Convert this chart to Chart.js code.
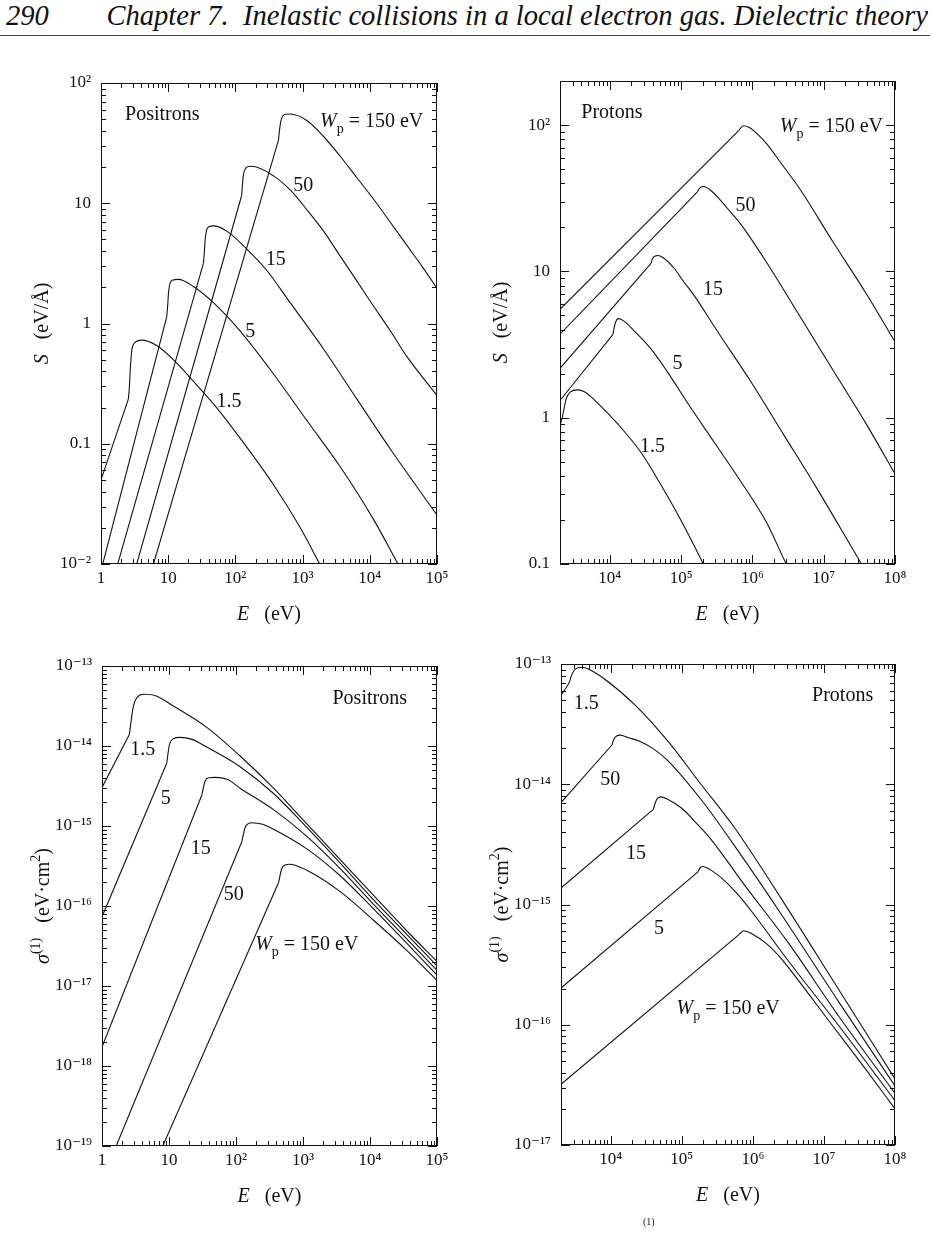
<!DOCTYPE html>
<html>
<head>
<meta charset="utf-8">
<script src="https://cdn.jsdelivr.net/npm/chart.js@4.4.1/dist/chart.umd.min.js"></script>
<style>
  html, body { margin: 0; padding: 0; background: #fff; }
  body { width: 932px; height: 1237px; position: relative; overflow: hidden; }
  canvas { position: absolute; }
  .hdr { position: absolute; top: 2px; line-height: 1; font-style: italic;
         font-family: 'Liberation Serif', 'DejaVu Serif', serif; white-space: nowrap; color: #111; }
  #pg { left: 6px; }
  #ttl { right: 4px; }
  #rule { position: absolute; left: 0; top: 35px; width: 930px; height: 1px; background: #444; }
  #cap { position: absolute; left: 643px; top: 1216px; font: 10px 'Liberation Serif', serif; color: #111; }
</style>
</head>
<body>
<div id="pg" class="hdr">290</div>
<div id="ttl" class="hdr">Chapter 7.&nbsp; Inelastic collisions in a local electron gas. Dielectric theory</div>
<div id="rule"></div>

<canvas id="c1" width="466" height="590" style="left:0;top:40px"></canvas>
<canvas id="c2" width="466" height="590" style="left:466px;top:40px"></canvas>
<canvas id="c3" width="466" height="600" style="left:0;top:630px"></canvas>
<canvas id="c4" width="466" height="600" style="left:466px;top:630px"></canvas>
<div id="cap">(1)</div>

<script>
/* ---------- data: [E (eV), value] ---------- */

/* stopping power S (eV/Å), positrons */
const posS_1p5 = [[1,0.05],[2.55,0.235],[2.63,0.282],[2.75,0.447],[2.88,0.60],[3.16,0.69],[4.04,0.728],[6.75,0.656],[11.9,0.50],[23.7,0.331],[52.8,0.199],[118,0.111],[369,0.0456],[920,0.0201],[1800,0.0100],[3160,0.0056]];
const posS_5   = [[1,0.0088],[9.5,1.135],[9.77,1.35],[10.1,1.78],[10.6,2.14],[11.5,2.29],[14.2,2.33],[23.7,2.03],[47.1,1.49],[118,0.863],[369,0.38],[1158,0.156],[3630,0.0643],[11400,0.0234],[26300,0.0100],[45000,0.0058]];
const posS_15  = [[1.67,0.0089],[33.4,3.16],[34.4,3.8],[35.5,5.0],[37.2,5.96],[40.3,6.38],[47.1,6.49],[74.5,5.86],[148,4.16],[294,2.76],[653,1.49],[2050,0.614],[6430,0.235],[20200,0.0904],[100000,0.0255]];
const posS_50  = [[3.2,0.0089],[124,11.6],[127,14.1],[132,17.4],[140,19.3],[155,20.2],[175,20.3],[369,16.9],[653,12.9],[1158,8.83],[2050,5.86],[3630,3.63],[6430,2.25],[11400,1.39],[20200,0.87],[35700,0.53],[100000,0.252]];
const posS_150 = [[5.67,0.0089],[438,33.5],[452,39.8],[473,47.9],[507,53.1],[562,55.0],[653,55.2],[1156,48.8],[2050,35.9],[3630,24.6],[6430,16.3],[11400,10.8],[20200,6.95],[35700,4.46],[63200,2.86],[100000,1.96]];

/* stopping power S (eV/Å), protons */
const proS_1p5 = [[2000,0.88],[2150,1.0],[2450,1.35],[2800,1.5],[3500,1.55],[4470,1.50],[6110,1.32],[12900,0.906],[27400,0.578],[52000,0.348],[98900,0.20],[205000,0.1],[350000,0.058]];
const proS_5   = [[2000,1.31],[11000,3.69],[12000,4.47],[13200,4.75],[15800,4.57],[22100,3.91],[37700,2.95],[64500,2.05],[122000,1.27],[288000,0.684],[681000,0.369],[1.6e6,0.19],[2.98e6,0.1],[5e6,0.062]];
const proS_15  = [[2000,2.17],[37800,11.35],[39800,12.3],[46700,12.85],[56200,12.4],[79800,10.5],[105000,8.7],[152000,6.86],[321000,3.91],[938000,1.78],[2.74e6,0.766],[7.98e6,0.33],[3.39e7,0.1],[6e7,0.063]];
const proS_50  = [[2000,3.72],[169000,35],[185000,37.3],[205000,38],[251000,36.3],[321000,32.4],[447000,26.9],[681000,21.1],[1.6e6,11.4],[4.68e6,4.89],[1.36e7,2.1],[3.98e7,0.9],[1e8,0.412]];
const proS_150 = [[2000,5.5],[646000,92],[741000,98.9],[891000,96.6],[1.2e6,86.1],[1.6e6,74.1],[2.51e6,55.0],[4.68e6,36.3],[1.36e7,15.8],[3.98e7,7.0],[1e8,3.3]];

/* sigma^(1) (eV cm^2), positrons */
const posX_1p5 = [[1,3.03e-15],[2.56,1.39e-14],[2.94,3.16e-14],[3.37,4.09e-14],[4.15,4.44e-14],[6.3,4.25e-14],[11.6,3.16e-14],[36.6,1.71e-14],[115,7.5e-15],[363,2.97e-15],[1140,1.06e-15],[3590,3.8e-16],[11300,1.36e-16],[35600,4.87e-17],[100000,2.03e-17]];
const posX_5   = [[1,7.35e-17],[9.25,6.1e-15],[10.1,1.02e-14],[11.6,1.23e-14],[14.6,1.28e-14],[22,1.21e-14],[36.6,9.7e-15],[115,5.51e-15],[363,2.55e-15],[1140,9.59e-16],[3590,3.43e-16],[11300,1.19e-16],[35600,4.4e-17],[100000,1.78e-17]];
const posX_15  = [[1,1.73e-18],[30.8,2.42e-15],[34.6,3.65e-15],[38.8,4.01e-15],[48.8,4.05e-15],[75,3.8e-15],[115,2.97e-15],[363,1.6e-15],[1140,7.43e-16],[3590,2.94e-16],[11300,1.05e-16],[35600,3.85e-17],[100000,1.57e-17]];
const posX_50  = [[1.45,7.9e-20],[122,6.37e-16],[137,9.59e-16],[153,1.07e-15],[172,1.1e-15],[250,1.05e-15],[363,9.12e-16],[1140,5.18e-16],[3590,2.39e-16],[11300,9.2e-17],[35600,3.4e-17],[100000,1.37e-17]];
const posX_150 = [[7.13,7.9e-20],[431,1.95e-16],[483,2.94e-16],[542,3.26e-16],[629,3.33e-16],[1140,2.79e-16],[3590,1.51e-16],[11300,6.63e-17],[35600,2.77e-17],[100000,1.18e-17]];

/* sigma^(1) (eV cm^2), protons (curves top to bottom) */
const proX_a = [[2000,5.5e-14],[2300,6.2e-14],[2600,7.0e-14],[2900,8.4e-14],[3300,9.2e-14],[3980,9.4e-14],[5010,9.0e-14],[7590,7.76e-14],[21900,4.57e-14],[64600,2.26e-14],[186000,1.0e-14],[550000,4.37e-15],[2.51e6,1.12e-15],[1.58e7,2.0e-16],[1e8,3.55e-17]];
const proX_b = [[2000,7.03e-15],[10400,2.12e-14],[11200,2.4e-14],[12300,2.53e-14],[13600,2.56e-14],[17800,2.44e-14],[25100,2.29e-14],[40000,1.97e-14],[63100,1.58e-14],[200000,7.08e-15],[631000,2.75e-15],[2.51e6,8.3e-16],[1.58e7,1.58e-16],[1e8,3.1e-17]];
const proX_c = [[2000,1.37e-15],[39800,6.18e-15],[43500,7.3e-15],[50900,7.85e-15],[63100,7.5e-15],[100000,6.31e-15],[158000,4.79e-15],[251000,3.55e-15],[794000,1.41e-15],[3.16e6,4.79e-16],[1.58e7,1.2e-16],[1e8,2.69e-17]];
const proX_d = [[2000,2.02e-16],[169000,1.87e-15],[182000,2.03e-15],[199000,2.07e-15],[251000,1.95e-15],[398000,1.58e-15],[631000,1.19e-15],[1e6,8.5e-16],[3.16e6,3.39e-16],[1.58e7,1.0e-16],[1e8,2.34e-17]];
const proX_e = [[2000,3.2e-17],[644000,5.65e-16],[741000,6.05e-16],[955000,5.75e-16],[1.58e6,4.68e-16],[2.51e6,3.55e-16],[3.98e6,2.51e-16],[1.26e7,1.02e-16],[3.98e7,4.17e-17],[1e8,2.0e-17]];

/* axis ticks */
const eTicksPos  = [1, 10, 100, 1e3, 1e4, 1e5];
const eLabelsPos = ['1', '10', '10²', '10³', '10⁴', '10⁵'];
const eTicksPro  = [1e4, 1e5, 1e6, 1e7, 1e8];
const eLabelsPro = ['10⁴', '10⁵', '10⁶', '10⁷', '10⁸'];
const sTicksPos  = [0.01, 0.1, 1, 10, 100];
const sLabelsPos = ['10⁻²', '0.1', '1', '10', '10²'];
const sTicksPro  = [0.1, 1, 10, 100];
const sLabelsPro = ['0.1', '1', '10', '10²'];
const xTicksPos  = [1e-19, 1e-18, 1e-17, 1e-16, 1e-15, 1e-14, 1e-13];
const xLabelsPos = ['10⁻¹⁹', '10⁻¹⁸', '10⁻¹⁷', '10⁻¹⁶', '10⁻¹⁵', '10⁻¹⁴', '10⁻¹³'];
const xTicksPro  = [1e-17, 1e-16, 1e-15, 1e-14, 1e-13];
const xLabelsPro = ['10⁻¹⁷', '10⁻¹⁶', '10⁻¹⁵', '10⁻¹⁴', '10⁻¹³'];

/* ---------- text helpers ---------- */
const FONT = "'Liberation Serif', 'DejaVu Serif', serif";
const WP = [{t: 'W', it: 1}, {t: 'p', sub: 1}, {t: ' = 150 eV'}];
const txt = (s) => [{t: s}];

function segFont(s, size) {
  const sz = (s.sub || s.sup) ? Math.round(size * 0.7) : size;
  return (s.it ? 'italic ' : '') + sz + 'px ' + FONT;
}
function drawRich(ctx, segs, x, y, align, size) {
  let w = 0;
  segs.forEach(s => { ctx.font = segFont(s, size); w += ctx.measureText(s.t).width; });
  let cx = align === 'left' ? x : align === 'right' ? x - w : x - w / 2;
  ctx.textAlign = 'left';
  ctx.textBaseline = 'alphabetic';
  const base = y + size * 0.33;
  segs.forEach(s => {
    ctx.font = segFont(s, size);
    const dy = s.sub ? size * 0.28 : s.sup ? -size * 0.42 : 0;
    ctx.fillText(s.t, cx, base + dy);
    cx += ctx.measureText(s.t).width;
  });
}

/* ---------- frame, inward ticks, in-plot labels, axis titles ---------- */
const framePlugin = {
  id: 'frame',
  afterDatasetsDraw(chart, args, o) {
    const {ctx, chartArea: a, scales: {x, y}} = chart;
    ctx.save();
    ctx.strokeStyle = '#111';
    ctx.fillStyle = '#111';
    ctx.lineWidth = 1;
    ctx.strokeRect(a.left + 0.5, a.top + 0.5, a.right - a.left - 1, a.bottom - a.top - 1);

    const logTicks = (sc) => {
      const out = [];
      const lo = Math.floor(Math.log10(sc.min)), hi = Math.ceil(Math.log10(sc.max));
      for (let k = lo; k <= hi; k++) {
        for (let m = 1; m <= 9; m++) {
          const v = m * Math.pow(10, k);
          if (v >= sc.min * 0.9999 && v <= sc.max * 1.0001) out.push([v, m === 1]);
        }
      }
      return out;
    };
    ctx.beginPath();
    logTicks(x).forEach(([v, major]) => {
      const px = Math.round(x.getPixelForValue(v)) + 0.5, L = major ? 9 : 5;
      ctx.moveTo(px, a.bottom); ctx.lineTo(px, a.bottom - L);
      ctx.moveTo(px, a.top); ctx.lineTo(px, a.top + L);
    });
    logTicks(y).forEach(([v, major]) => {
      const py = Math.round(y.getPixelForValue(v)) + 0.5, L = major ? 9 : 5;
      ctx.moveTo(a.left, py); ctx.lineTo(a.left + L, py);
      ctx.moveTo(a.right, py); ctx.lineTo(a.right - L, py);
    });
    ctx.stroke();

    (o.labels || []).forEach(l => {
      drawRich(ctx, l.segs, x.getPixelForValue(l.x), y.getPixelForValue(l.y), l.align || 'center', 20);
    });

    drawRich(ctx, o.xTitle, (a.left + a.right) / 2, a.bottom + 49, 'center', 20);
    ctx.translate(a.left - 60, (a.top + a.bottom) / 2);
    ctx.rotate(-Math.PI / 2);
    drawRich(ctx, o.yTitle, 0, 0, 'center', 20);
    ctx.restore();
  }
};

/* ---------- chart builder ---------- */
function makeChart(id, c) {
  const line = {borderColor: '#111', borderWidth: 1.1, pointRadius: 0, fill: false};
  const datasets = [];
  c.curves.forEach(curve => {
    const pts = curve.map(([e, v]) => ({x: e, y: v}));
    // straight low-energy rise, then the smooth peak and tail
    datasets.push({...line, data: pts.slice(0, 2), tension: 0});
    datasets.push({...line, data: pts.slice(1), cubicInterpolationMode: 'monotone'});
  });
  const axis = (min, max, ticks, labels, pad) => ({
    type: 'logarithmic',
    min, max,
    afterBuildTicks: s => { s.ticks = ticks.map(v => ({value: v})); },
    ticks: {
      autoSkip: false, maxRotation: 0, padding: pad, color: '#111',
      font: {family: FONT, size: 17},
      callback: (v, i) => labels[i]
    },
    grid: {display: false, drawTicks: false},
    border: {display: false}
  });
  const xAxis = axis(c.xMin, c.xMax, c.xTicks, c.xLabels, 4);
  xAxis.afterFit = s => { s.height = c.xAxisH; };
  const yAxis = axis(c.yMin, c.yMax, c.yTicks, c.yLabels, 10);
  yAxis.afterFit = s => { s.width = c.yAxisW; };

  return new Chart(document.getElementById(id), {
    type: 'line',
    data: {datasets},
    options: {
      responsive: false,
      animation: false,
      devicePixelRatio: 1,
      layout: {padding: {top: c.padTop, right: c.padRight, left: 0, bottom: 0}},
      plugins: {
        legend: {display: false},
        tooltip: {enabled: false},
        frame: {labels: c.labels, xTitle: c.xTitle, yTitle: c.yTitle}
      },
      scales: {x: xAxis, y: yAxis}
    },
    plugins: [framePlugin]
  });
}

const xTitleE = [{t: 'E', it: 1}, {t: '   (eV)'}];
const yTitleS = [{t: 'S', it: 1}, {t: '   (eV/Å)'}];
const yTitleX = [{t: 'σ', it: 1}, {t: '(1)', sup: 1}, {t: '   (eV·cm'}, {t: '2', sup: 1}, {t: ')'}];

makeChart('c1', {
  curves: [posS_1p5, posS_5, posS_15, posS_50, posS_150],
  xMin: 1, xMax: 1e5, xTicks: eTicksPos, xLabels: eLabelsPos,
  yMin: 0.01, yMax: 100, yTicks: sTicksPos, yLabels: sLabelsPos,
  yAxisW: 101, xAxisH: 66, padTop: 43, padRight: 29,
  xTitle: xTitleE, yTitle: yTitleS,
  labels: [
    {segs: txt('Positrons'), x: 2.28, y: 56, align: 'left'},
    {segs: WP, x: 62500, y: 48.8, align: 'right'},
    {segs: txt('50'), x: 1020, y: 14.3},
    {segs: txt('15'), x: 400, y: 3.5},
    {segs: txt('5'), x: 166, y: 0.88},
    {segs: txt('1.5'), x: 80.6, y: 0.228}
  ]
});

makeChart('c2', {
  curves: [proS_1p5, proS_5, proS_15, proS_50, proS_150],
  xMin: 2000, xMax: 1e8, xTicks: eTicksPro, xLabels: eLabelsPro,
  yMin: 0.1, yMax: 200, yTicks: sTicksPro, yLabels: sLabelsPro,
  yAxisW: 94, xAxisH: 66, padTop: 41, padRight: 37,
  xTitle: xTitleE, yTitle: yTitleS,
  labels: [
    {segs: txt('Protons'), x: 3980, y: 124, align: 'left'},
    {segs: WP, x: 6.8e7, y: 99, align: 'right'},
    {segs: txt('50'), x: 798000, y: 28.7},
    {segs: txt('15'), x: 280000, y: 7.67},
    {segs: txt('5'), x: 88900, y: 2.38},
    {segs: txt('1.5'), x: 39800, y: 0.647}
  ]
});

makeChart('c3', {
  curves: [posX_1p5, posX_5, posX_15, posX_50, posX_150],
  xMin: 1, xMax: 1e5, xTicks: eTicksPos, xLabels: eLabelsPos,
  yMin: 1e-19, yMax: 1e-13, yTicks: xTicksPos, yLabels: xLabelsPos,
  yAxisW: 102, xAxisH: 84, padTop: 36, padRight: 29,
  xTitle: xTitleE, yTitle: yTitleX,
  labels: [
    {segs: txt('Positrons'), x: 35600, y: 4.09e-14, align: 'right'},
    {segs: txt('1.5'), x: 4.05, y: 9.2e-15},
    {segs: txt('5'), x: 8.93, y: 2.3e-15},
    {segs: txt('15'), x: 29.8, y: 5.46e-16},
    {segs: txt('50'), x: 92.7, y: 1.43e-16},
    {segs: WP, x: 193, y: 3.4e-17, align: 'left'}
  ]
});

makeChart('c4', {
  curves: [proX_a, proX_b, proX_c, proX_d, proX_e],
  xMin: 2000, xMax: 1e8, xTicks: eTicksPro, xLabels: eLabelsPro,
  yMin: 1e-17, yMax: 1e-13, yTicks: xTicksPro, yLabels: xLabelsPro,
  yAxisW: 95, xAxisH: 85, padTop: 34, padRight: 37,
  xTitle: xTitleE, yTitle: yTitleX,
  labels: [
    {segs: txt('Protons'), x: 4.93e7, y: 5.63e-14, align: 'right'},
    {segs: txt('1.5'), x: 4530, y: 4.81e-14},
    {segs: txt('50'), x: 9890, y: 1.11e-14},
    {segs: txt('15'), x: 22800, y: 2.72e-15},
    {segs: txt('5'), x: 47700, y: 6.47e-16},
    {segs: WP, x: 84300, y: 1.39e-16, align: 'left'}
  ]
});

/* ---------- running head: fit title to the text block width ---------- */
const ttl = document.getElementById('ttl');
const pg = document.getElementById('pg');
ttl.style.fontSize = '24px';
const fs = 24 * 822 / ttl.getBoundingClientRect().width;
ttl.style.fontSize = fs + 'px';
pg.style.fontSize = fs + 'px';
</script>
</body>
</html>
